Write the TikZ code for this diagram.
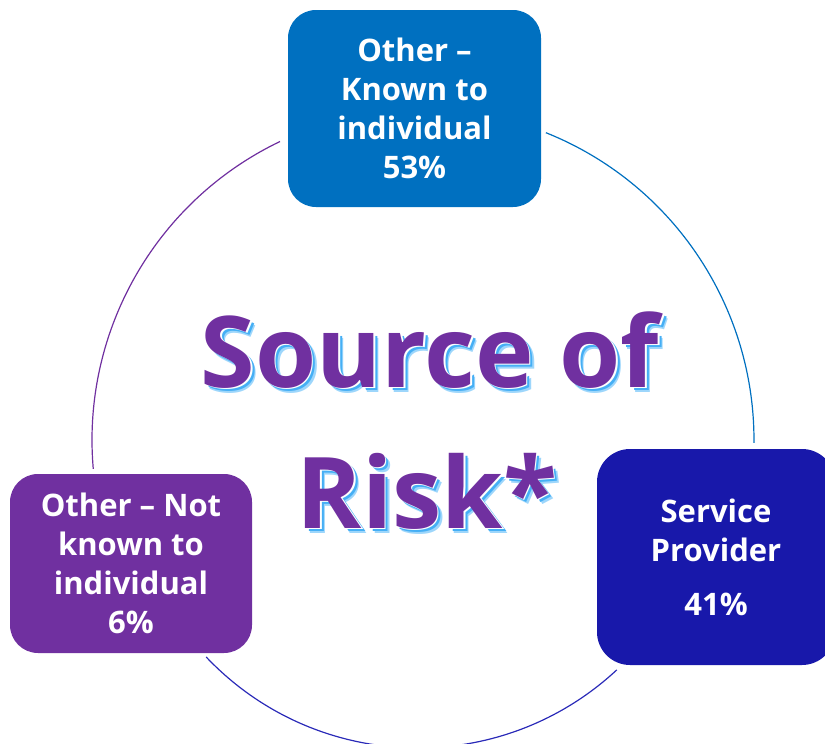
\documentclass[tikz,border=0pt]{standalone}
\usepackage{fontspec}
\setmainfont{Open Sans}
\definecolor{cblue}{HTML}{0070C0}
\definecolor{cpurple}{HTML}{7030A0}
\definecolor{cdark}{HTML}{1818AA}
\definecolor{cshadowA}{HTML}{9DD6FB}
\definecolor{cshadowB}{HTML}{45AFF5}
\definecolor{carc}{HTML}{2A2AB8}
\begin{document}
\begin{tikzpicture}[x=1pt,y=-1pt,
  box/.style={inner sep=0pt, text=white, align=center,
    font=\bfseries\fontsize{31}{39}\selectfont},
  ring/.style={line width=1.2pt},
  title/.style={anchor=base, inner sep=0pt,
    font=\bfseries\fontsize{99}{115}\selectfont}]
\useasboundingbox (0,0) rectangle (825,744);
% ring segments
\coordinate (k1) at (545.9,132.7);
\coordinate (k2) at (280.0,141.5);
\coordinate (n1) at (206.2,657.0);
\draw[ring, cblue] (k1) arc[start angle=-68.2, end angle=0.5, radius=331];
\draw[ring, cpurple] (k2) arc[start angle=-115.6, end angle=-185, radius=331];
\draw[ring, carc] (n1) arc[start angle=136.5, end angle=47.1, radius=292];
% boxes
\node[box, fill=cblue, rounded corners=28pt, minimum width=253pt, minimum height=197pt] (known) at (414.5,108.5) {Other –\\Known to\\individual\\53\%};
\node[box, fill=cpurple, rounded corners=28pt, minimum width=242pt, minimum height=179pt] (notknown) at (131,563.5) {Other – Not\\known to\\individual\\6\%};
\node[box, fill=cdark, rounded corners=33pt, minimum width=238pt, minimum height=216pt] (provider) at (716,557) {Service\\Provider\\[15pt]41\%};
% title with shadow and white edge
\node[title, text=cshadowA] (s1a) at (435,392) {Source of};
\node[title, text=cshadowB] (s1b) at (433.5,390.5) {Source of};
\node[title, text=white] (s1c) at (431.5,388.5) {Source of};
\node[title, text=cpurple] (s1) at (430,387) {Source of};
\node[title, text=cshadowA] (s2a) at (432,533) {Risk*};
\node[title, text=cshadowB] (s2b) at (430.5,531.5) {Risk*};
\node[title, text=white] (s2c) at (428.5,529.5) {Risk*};
\node[title, text=cpurple] (s2) at (427,528) {Risk*};
\end{tikzpicture}
\end{document}
